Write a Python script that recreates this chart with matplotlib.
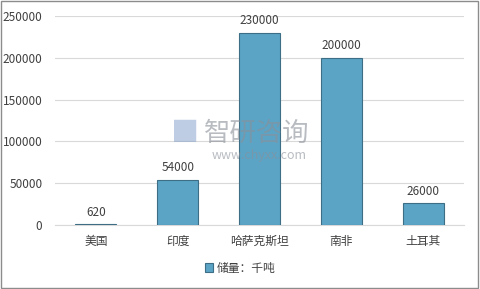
import matplotlib
matplotlib.use("Agg")
import matplotlib.pyplot as plt
from matplotlib.patches import Rectangle

plt.rcParams['font.family'] = ['Noto Sans CJK SC', 'DejaVu Sans']

categories = ['美国', '印度', '哈萨克斯坦', '南非', '土耳其']
values = [620, 54000, 230000, 200000, 26000]
yticks = [0, 50000, 100000, 150000, 200000, 250000]
series_name = '储量：千吨'

fig = plt.figure(figsize=(4.8, 2.89), dpi=100)
ax = fig.add_axes([55/480, 1-225/289, 409/480, 209/289])

x = list(range(len(categories)))
bars = ax.bar(x, values, width=0.5, color='#5ba4c6', edgecolor='#3d6e86',
              linewidth=0.8, label=series_name, zorder=3)
for xi, v in zip(x, values):
    ax.text(xi, v + 6500, f'{v}', ha='center', va='bottom', fontsize=8.5, color='#404040')

ax.set_xlim(-0.5, len(categories) - 0.5)
ax.set_ylim(0, 250000)
ax.set_yticks(yticks)
ax.set_yticklabels([str(t) for t in yticks])
ax.set_xticks(x)
ax.set_xticklabels(categories)
ax.tick_params(axis='both', length=0, labelsize=8.5, colors='#404040')
ax.tick_params(axis='y', pad=9)
ax.tick_params(axis='x', pad=7)
ax.grid(axis='y', color='#d9d9d9', linewidth=0.8, zorder=0)
for s in ['top', 'right', 'left']:
    ax.spines[s].set_visible(False)
ax.spines['bottom'].set_color('#d9d9d9')

# watermark
fig.text(0.535, 1-133/289, '智研咨询', fontsize=19, color='#8a9099', alpha=0.6,
         ha='center', va='center', zorder=10)
fig.text(0.54, 1-155/289, 'www.chyxx.com', fontsize=9, color='#8a9099', alpha=0.6,
         ha='center', va='center', zorder=10)
fig.text(0.385, 1-133/289, '█', fontsize=16, color='#7f9cc8', alpha=0.5,
         ha='center', va='center', zorder=10)

leg = fig.legend(handles=[bars], labels=[series_name], loc='center',
                 bbox_to_anchor=(0.5, 1-268/289), frameon=False, fontsize=8.5,
                 handlelength=0.7, handleheight=0.7, handletextpad=0.3)
for t in leg.get_texts():
    t.set_color('#404040')

fig.patches.append(Rectangle((0.002, 0.003), 0.994, 0.994, transform=fig.transFigure,
                             fill=False, edgecolor='#8c8c8c', linewidth=1.0))

fig.savefig('out.png', dpi=100)
